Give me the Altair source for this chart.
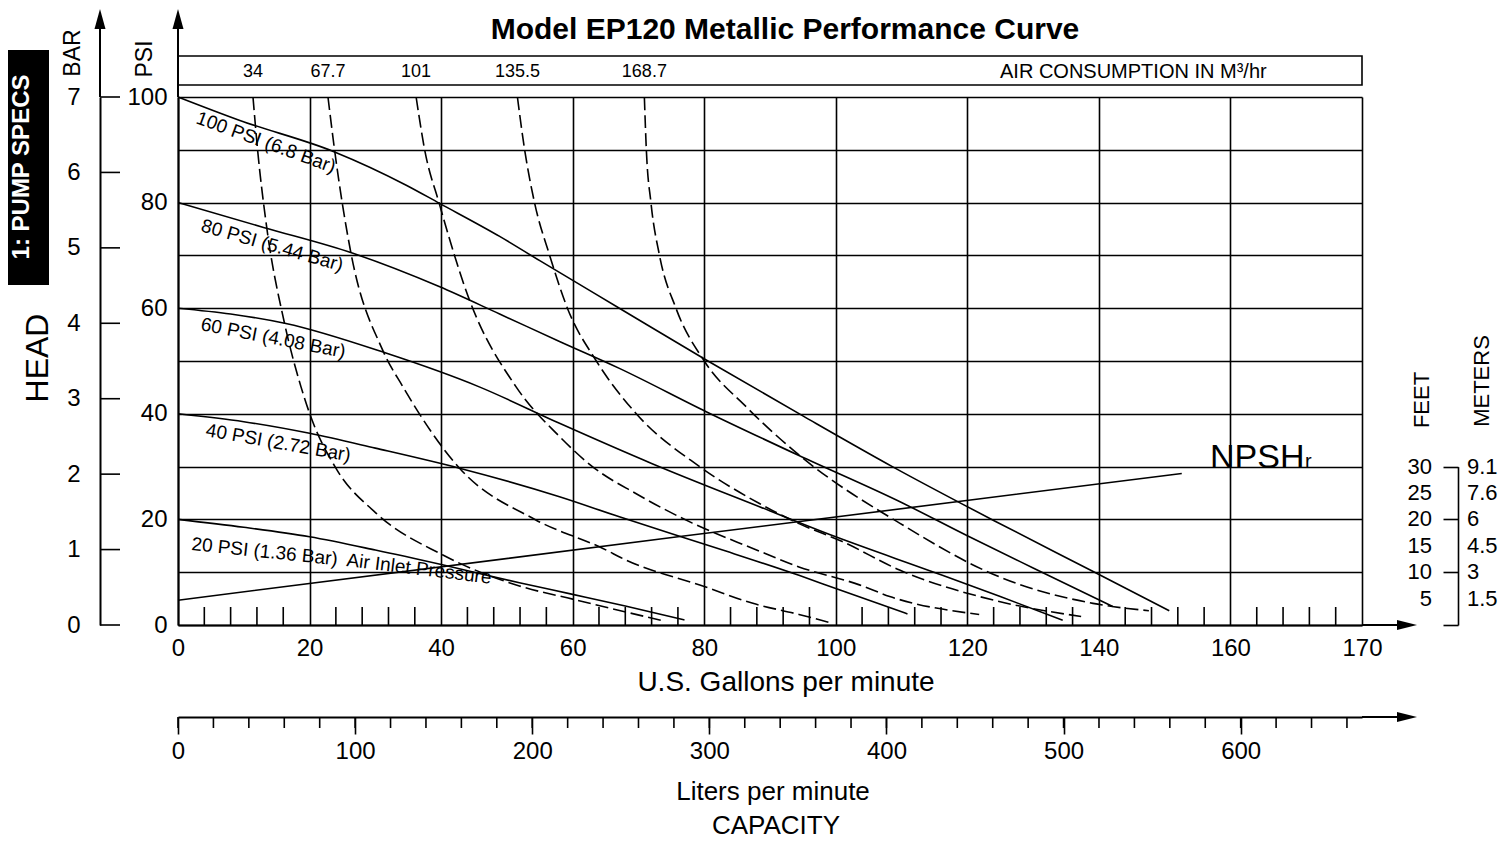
import altair as alt
import pandas as pd

FONT = "Liberation Sans, Arial, Helvetica, sans-serif"
W, H = 1184, 528

# ---------------- axis values / labels ----------------
gpm_major = [0, 20, 40, 60, 80, 100, 120, 140, 160, 180]
gpm_major_labels = ["0", "20", "40", "60", "80", "100", "120", "140", "160", "170"]
gpm_minor = [4, 8, 12, 16, 24, 28, 32, 36, 44, 48, 52, 56, 64, 68, 72, 76,
             84, 88, 92, 96, 104, 108, 112, 116, 124, 128, 132, 136,
             144, 148, 152, 156, 164, 168, 172, 176]
psi_grid = [0, 10, 20, 30, 40, 50, 60, 70, 80, 90, 100]
psi_labels = [0, 20, 40, 60, 80, 100]
bar_values = [0, 1, 2, 3, 4, 5, 6, 7]
liters_major = [0, 100, 200, 300, 400, 500, 600]
liters_minor = [0, 20, 40, 60, 80, 100, 120, 140, 160, 180, 200, 220, 240, 260,
                280, 300, 320, 340, 360, 380, 400, 420, 440, 460, 480, 500,
                520, 540, 560, 580, 600, 620, 640, 660]
feet_ticks = [0, 10, 20, 30]
feet_labels = [30, 25, 20, 15, 10, 5]
meters_labels = ["9.1", "7.6", "6", "4.5", "3", "1.5"]

# ---------------- performance curves (GPM, PSI) ----------------
p100_gpm = [0, 9.3, 23.8, 34.7, 39.7, 48.9, 55, 67.1, 80.3, 95, 108.6, 124, 139.5, 150.7]
p100_psi = [100, 95.6, 89.6, 83.3, 79.9, 73.6, 69, 60.0, 50.2, 39.6, 30.0, 19.8, 9.9, 2.7]
p80_gpm = [0, 13, 26.6, 39.7, 48.9, 58, 67.1, 80.3, 94.4, 110, 120, 130, 142.1]
p80_psi = [80, 75.3, 70.4, 64.1, 58.9, 53.7, 48.6, 40.4, 32.1, 23.2, 16.9, 10.8, 3.5]
p60_gpm = [0, 8, 16.4, 31.6, 45.8, 58, 72, 88.4, 100, 114.7, 125, 134.5]
p60_psi = [60, 58.9, 57.1, 51.5, 45.1, 38.2, 30.6, 22.4, 16.7, 10.1, 5.4, 0.9]
p40_gpm = [0, 10, 20, 30, 42.8, 58, 67.1, 82.8, 94.4, 100, 110.9]
p40_psi = [40, 38.5, 36.3, 33.5, 29.7, 24.3, 20.5, 14.2, 9.4, 6.9, 2.1]
p20_gpm = [0, 10, 20, 30, 40.2, 51.9, 60, 68, 77]
p20_psi = [20, 18.5, 16.7, 14.2, 11.4, 8.0, 5.8, 3.6, 0.95]

# ---------------- air consumption curves (GPM, PSI) ----------------
a34_gpm = [11.4, 12.1, 13.4, 16.2, 18.7, 20, 24, 30.1, 40.2, 51.9, 60, 73.7]
a34_psi = [100, 90, 76.1, 57.1, 45.1, 40.1, 29.7, 21.2, 13.3, 7.4, 4.9, 0.8]
a67_gpm = [22.8, 23.8, 26.3, 31.1, 34.2, 42.8, 54.4, 64.6, 68.1, 80, 87.4, 94.4, 99]
a67_psi = [100, 90, 70.4, 52.1, 45.1, 29.7, 19.9, 14.5, 12.3, 7.3, 4.1, 2.0, 0.5]
a101_gpm = [36.2, 37.5, 39.7, 44.3, 51.4, 58, 63, 69.6, 78.2, 87.4, 94.4, 103.6, 108.2, 121.8]
a101_psi = [100, 90, 79.9, 61.6, 45.1, 35.7, 30, 24.9, 19.3, 14.5, 11.0, 7.6, 5.4, 2.0]
a135_gpm = [51.6, 52.7, 54.2, 56.5, 59.2, 63.6, 69.6, 79.3, 88.4, 94.4, 101, 109.7, 124, 137.3]
a135_psi = [100, 90, 80, 70, 60, 50, 40.1, 30, 23, 19.2, 15.8, 10.4, 4.7, 1.6]
a168_gpm = [70.9, 71.2, 71.9, 73.2, 75.7, 80.0, 86.4, 94.4, 109.7, 124.9, 139.1, 147.6]
a168_psi = [100, 90, 80, 70, 60, 50, 41.3, 32.2, 19.3, 9.1, 4.1, 2.7]
air_labels = ["34", "67.7", "101", "135.5", "168.7"]

# ---------------- NPSHr (GPM, feet) ----------------
npsh_gpm = [0, 76, 152.6]
npsh_ft = [4.7, 16.7, 28.7]

perf = [("100", p100_gpm, p100_psi), ("80", p80_gpm, p80_psi), ("60", p60_gpm, p60_psi),
        ("40", p40_gpm, p40_psi), ("20", p20_gpm, p20_psi)]
air = [("34", a34_gpm, a34_psi), ("67.7", a67_gpm, a67_psi), ("101", a101_gpm, a101_psi),
       ("135.5", a135_gpm, a135_psi), ("168.7", a168_gpm, a168_psi)]

perf_df = pd.DataFrame([{"curve": k, "gpm": g, "psi": p} for k, gs, ps in perf for g, p in zip(gs, ps)])
air_df = pd.DataFrame([{"curve": k, "gpm": g, "psi": p} for k, gs, ps in air for g, p in zip(gs, ps)])
air_lab_df = pd.DataFrame({"label": air_labels, "gpm": [c[1][0] for c in air]})
npsh_df = pd.DataFrame({"gpm": npsh_gpm, "ft": npsh_ft})
feet_df = pd.DataFrame({"ft": feet_labels, "m": meters_labels})
one = pd.DataFrame({"k": [0]})

# ---------------- scales ----------------
XS = alt.Scale(domain=[0, 180], nice=False, zero=False)
YS = alt.Scale(domain=[0, 100], nice=False, zero=False)
FS = alt.Scale(domain=[0, 30], range=[H, H - 30 * H / 100], nice=False, zero=False)
BS = alt.Scale(domain=[0, 7], nice=False, zero=False)
LS = alt.Scale(domain=[0, 668.5], nice=False, zero=False)

gpm_expr = "datum.label"
for v, l in zip(gpm_major, gpm_major_labels):
    if str(v) != l:
        gpm_expr = f"datum.value == {v} ? '{l}' : ({gpm_expr})"
psi_expr = f"indexof({psi_labels}, datum.value) >= 0 ? datum.label : ''"

LW = 1.6
DASH = [13, 5]

x_axis = alt.Axis(orient="bottom", values=gpm_major, grid=True, gridColor="black", gridWidth=LW,
                  gridOpacity=1, ticks=False, tickSize=0, domainColor="black", domainWidth=2,
                  labelFont=FONT, labelFontSize=24, labelColor="black", labelPadding=11,
                  labelExpr=gpm_expr, labelFlush=False, labelOverlap=False, title="")
y_axis = alt.Axis(orient="left", values=psi_grid, grid=True, gridColor="black", gridWidth=LW,
                  gridOpacity=1, ticks=False, tickSize=0, domainColor="black", domainWidth=2,
                  labelFont=FONT, labelFontSize=24, labelColor="black", labelPadding=11,
                  labelExpr=psi_expr, labelOverlap=False, labelFlush=False, title="")

layers = []

# performance curves (carry main axes + grid)
layers.append(alt.Chart(perf_df).mark_line(color="black", strokeWidth=LW, interpolate="monotone").encode(
    x=alt.X("gpm:Q", scale=XS, axis=x_axis),
    y=alt.Y("psi:Q", scale=YS, axis=y_axis),
    detail="curve:N"))

# air consumption curves
layers.append(alt.Chart(air_df).mark_line(color="black", strokeWidth=LW, strokeDash=DASH,
                                          interpolate="monotone").encode(
    x=alt.X("gpm:Q", scale=XS, axis=None),
    y=alt.Y("psi:Q", scale=YS, axis=None),
    detail="curve:N"))

# NPSHr line with feet tick axis on the right
layers.append(alt.Chart(npsh_df).mark_line(color="black", strokeWidth=LW).encode(
    x=alt.X("gpm:Q", scale=XS, axis=None),
    y=alt.Y("ft:Q", scale=FS, axis=alt.Axis(orient="left", offset=-(W + 96), values=feet_ticks,
                                            labels=False, tickSize=15, tickColor="black", tickWidth=LW,
                                            domainColor="black", domainWidth=LW, grid=False, title=""))))

# feet / meters labels
layers.append(alt.Chart(feet_df).mark_text(font=FONT, fontSize=22, align="right", baseline="middle",
                                           color="black").encode(
    x=alt.value(W + 70), y=alt.Y("ft:Q", scale=FS, axis=None), text="ft:N"))
layers.append(alt.Chart(feet_df).mark_text(font=FONT, fontSize=22, align="left", baseline="middle",
                                           color="black").encode(
    x=alt.value(W + 105), y=alt.Y("ft:Q", scale=FS, axis=None), text="m:N"))

# GPM minor ticks (pointing up into plot)
layers.append(alt.Chart(pd.DataFrame({"gpm": gpm_minor})).mark_rule(color="black", strokeWidth=LW).encode(
    x=alt.X("gpm:Q", scale=XS, axis=None), y=alt.value(H), y2=alt.value(H - 18)))

# BAR axis
layers.append(alt.Chart(pd.DataFrame({"bar": bar_values})).mark_rule(color="black", strokeWidth=LW).encode(
    x=alt.value(-78), x2=alt.value(-58),
    y=alt.Y("bar:Q", scale=BS, axis=alt.Axis(orient="left", offset=78, values=bar_values, ticks=False,
                                             tickSize=0, domainColor="black", domainWidth=2, grid=False,
                                             labelFont=FONT, labelFontSize=24, labelColor="black",
                                             labelPadding=20, labelFlush=False, labelOverlap=False,
                                             title=""))))

# Liters per minute axis
layers.append(alt.Chart(pd.DataFrame({"l": liters_minor})).mark_rule(color="black", strokeWidth=LW).encode(
    x=alt.X("l:Q", scale=LS, axis=alt.Axis(orient="bottom", offset=92, values=liters_major, tickSize=17,
                                           tickColor="black", tickWidth=LW, domainColor="black",
                                           domainWidth=2, grid=False, labelFont=FONT, labelFontSize=24,
                                           labelColor="black", labelPadding=5, labelFlush=False,
                                           labelOverlap=False, title="")),
    y=alt.value(H + 92), y2=alt.value(H + 103)))

# air consumption labels in the top band
layers.append(alt.Chart(air_lab_df).mark_text(font=FONT, fontSize=18, baseline="middle", color="black").encode(
    x=alt.X("gpm:Q", scale=XS, axis=None), y=alt.value(-25), text="label:N"))


def deco_rule(x, y, x2=None, y2=None, w=2):
    enc = dict(x=alt.value(x), y=alt.value(y))
    if x2 is not None:
        enc["x2"] = alt.value(x2)
    if y2 is not None:
        enc["y2"] = alt.value(y2)
    return alt.Chart(one).mark_rule(color="black", strokeWidth=w).encode(**enc)


# axis extensions
layers.append(deco_rule(0, 0, y2=-70))
layers.append(deco_rule(-78, 0, y2=-70))
layers.append(deco_rule(W, H, x2=W + 36))
layers.append(deco_rule(W, H + 92, x2=W + 36))

UP = "M0,-1L0.55,1L-0.55,1Z"
RIGHT = "M1,0L-1,-0.5L-1,0.5Z"
for (ax, ay, shp) in [(0, -78, UP), (-78, -78, UP), (W + 45, H, RIGHT), (W + 45, H + 92, RIGHT)]:
    layers.append(alt.Chart(one).mark_point(shape=shp, size=400, filled=True, color="black",
                                            opacity=1, strokeWidth=0).encode(
        x=alt.value(ax), y=alt.value(ay)))

# air consumption band
layers.append(alt.Chart(one).mark_rect(filled=False, stroke="black", strokeWidth=LW).encode(
    x=alt.value(0), x2=alt.value(W), y=alt.value(-41), y2=alt.value(-12)))

# black side tab
layers.append(alt.Chart(one).mark_rect(color="black").encode(
    x=alt.value(-170), x2=alt.value(-129), y=alt.value(-47), y2=alt.value(188)))


def label(text, x, y, size, angle=0, align="center", baseline="middle", weight="normal", color="black"):
    return alt.Chart(pd.DataFrame({"t": [text]})).mark_text(
        font=FONT, fontSize=size, angle=angle, align=align, baseline=baseline,
        fontWeight=weight, color=color).encode(x=alt.value(x), y=alt.value(y), text="t:N")


layers += [
    label("Model EP120 Metallic Performance Curve", 607, -58, 30, baseline="alphabetic", weight="bold"),
    label("AIR CONSUMPTION IN M³/hr", 822, -25, 20, align="left"),
    label("1: PUMP SPECS", -156, 70, 24, angle=270, weight="bold", color="white"),
    label("HEAD", -140, 261, 32, angle=270),
    label("BAR", -105, -44, 23, angle=270),
    label("PSI", -33, -38, 23, angle=270),
    label("FEET", 1244, 303, 22, angle=270),
    label("METERS", 1304, 284, 22, angle=270),
    label("U.S. Gallons per minute", 608, 586, 28),
    label("Liters per minute", 595, 695, 26),
    label("CAPACITY", 598, 729, 26),
    label("NPSH", 1032, 371, 34, align="left", baseline="alphabetic"),
    label("r", 1127, 371, 20, align="left", baseline="alphabetic"),
    label("100 PSI (6.8 Bar)", 17, 26, 19, angle=20, align="left", baseline="alphabetic"),
    label("80 PSI (5.44 Bar)", 22, 134, 19, angle=16, align="left", baseline="alphabetic"),
    label("60 PSI (4.08 Bar)", 22, 233, 19, angle=11, align="left", baseline="alphabetic"),
    label("40 PSI (2.72 Bar)", 27, 339, 19, angle=10, align="left", baseline="alphabetic"),
    label("20 PSI (1.36 Bar)", 13, 453, 19, angle=6, align="left", baseline="alphabetic"),
    label("Air Inlet Pressure", 168, 469, 19, angle=7, align="left", baseline="alphabetic"),
]

chart = alt.layer(*layers).resolve_scale(x="independent", y="independent").properties(
    width=W, height=H,
    padding={"left": 170, "top": 89, "right": 141, "bottom": 217},
    autosize=alt.AutoSizeParams(type="none"),
    background="white",
).configure_view(strokeWidth=0)

chart.save("out.html", embed_options={"renderer": "svg", "actions": False})
